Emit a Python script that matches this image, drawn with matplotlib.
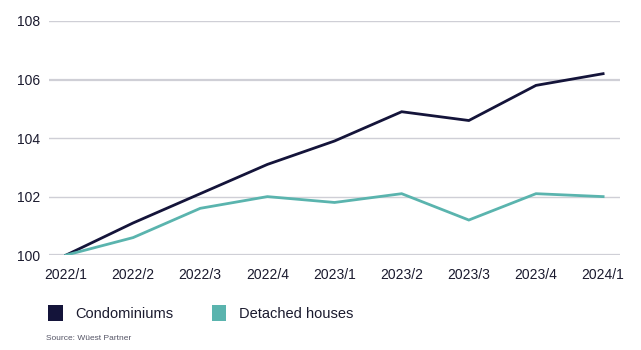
import matplotlib
matplotlib.use("Agg")
import matplotlib.pyplot as plt
from matplotlib.patches import Patch

plt.rcParams["font.family"] = ["Liberation Sans", "DejaVu Sans"]

quarters = ["2022/1", "2022/2", "2022/3", "2022/4", "2023/1",
            "2023/2", "2023/3", "2023/4", "2024/1"]
condominiums = [100.0, 101.1, 102.1, 103.1, 103.9, 104.9, 104.6, 105.8, 106.2]
detached = [100.0, 100.6, 101.6, 102.0, 101.8, 102.1, 101.2, 102.1, 102.0]
y_ticks = [100, 102, 104, 106, 108]

NAVY = "#14143a"
TEAL = "#5ab4ae"
TXT = "#1a1a2e"

fig = plt.figure(figsize=(6.41, 3.5), dpi=100)
ax = fig.add_axes([0.0764, 0.271, 0.891, 0.669])

x = range(len(quarters))
ax.plot(x, condominiums, color=NAVY, lw=2.0, solid_joinstyle="miter", zorder=3)
ax.plot(x, detached, color=TEAL, lw=2.0, solid_joinstyle="miter", zorder=3)

ax.set_xlim(-0.253, len(quarters) - 1 + 0.253)
ax.set_ylim(100, 108)
ax.set_yticks(y_ticks)
ax.set_xticks(list(x))
ax.set_xticklabels(quarters)
ax.tick_params(length=0, labelsize=10, colors=TXT)
ax.tick_params(axis="y", pad=6.5)
ax.tick_params(axis="x", pad=9)

for yv in y_ticks:
    lw = 1.6 if yv in (100, 106) else 1.0
    ax.axhline(yv, color="#cfcfd6", lw=lw, zorder=1)

for s in ax.spines.values():
    s.set_visible(False)

handles = [Patch(facecolor=NAVY, edgecolor="none", label="Condominiums"),
           Patch(facecolor=TEAL, edgecolor="none", label="Detached houses")]
fig.legend(handles=handles, loc="lower left", bbox_to_anchor=(0.0749, 0.083),
           ncol=2, frameon=False, fontsize=10.5, handlelength=1.0, handleheight=1.25,
           handletextpad=0.9, columnspacing=2.6, labelcolor=TXT,
           borderpad=0, borderaxespad=0)

fig.text(0.072, 0.03, "Source: Wüest Partner", fontsize=6, color="#555566")

fig.savefig("out.png", dpi=100)
